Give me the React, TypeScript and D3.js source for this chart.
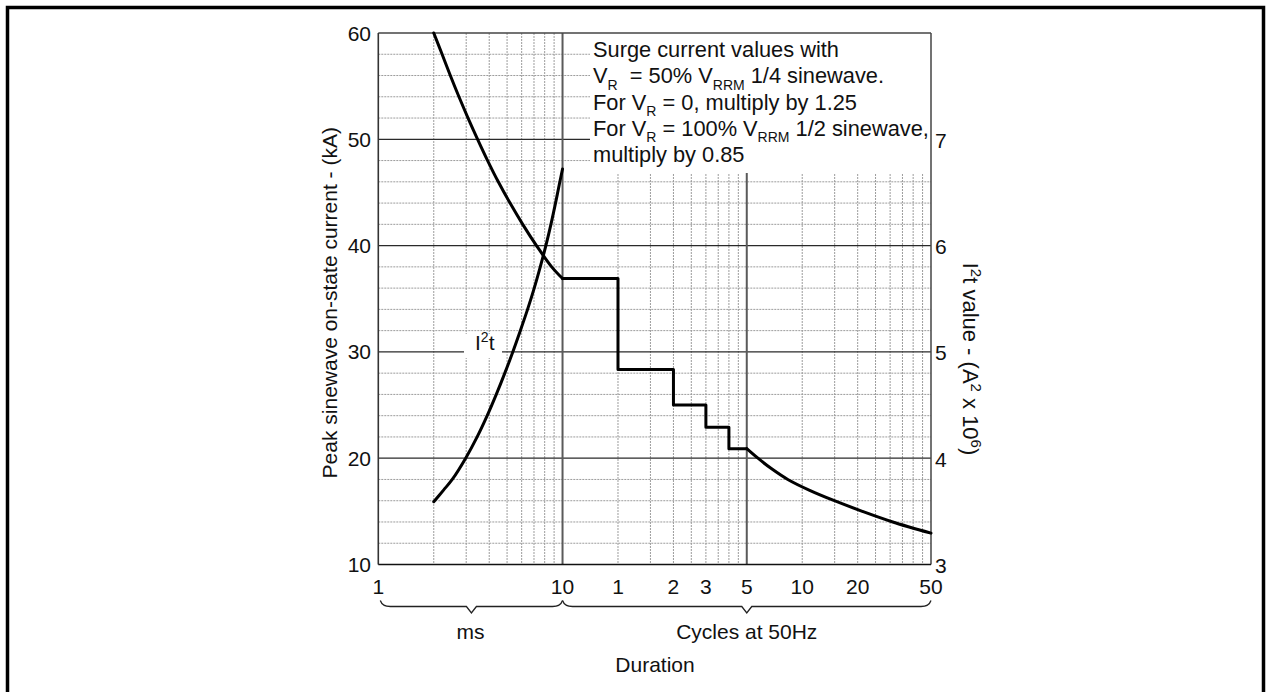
import { useEffect, useRef } from "react";
import * as d3 from "d3";

// surge current, ms region (t in ms, kA)
const surgeMs = [2.0, 2.22, 2.46, 2.74, 3.07, 3.46, 3.92, 4.48, 5.19, 6.08, 7.22, 8.73, 10];
const surgeKA = [60, 58, 56, 54, 52, 50, 48, 46, 44, 42, 40, 38, 36.9];

// stepped region: level stepKA[i] holds from stepCycles[i] to stepCycles[i + 1]
const stepCycles = [0.5, 1, 2, 3, 4, 5];
const stepKA = [36.9, 28.35, 25.0, 22.9, 20.9];

// tail after 5 cycles
const decayMs = [100, 115, 136.5, 167, 218, 299, 424, 620, 1000];
const decayKA = [20.9, 20, 19, 18, 17, 16, 15, 14, 12.95];

// I2t curve (right axis, A2 x 10^6)
const i2tMs = [2.0, 2.26, 2.52, 2.98, 3.44, 3.9, 4.37, 4.86, 5.37, 5.9, 6.46, 7.02, 7.57, 8.12, 8.65, 9.16, 9.67, 10];
const i2tVal = [3.59, 3.7, 3.8, 4.0, 4.2, 4.4, 4.6, 4.8, 5.0, 5.2, 5.4, 5.6, 5.8, 6.0, 6.2, 6.4, 6.6, 6.72];

const leftTicks = [10, 20, 30, 40, 50, 60];
const rightTicks = [3, 4, 5, 6, 7];
const msTicks = [1, 10];
const cycleTicks = [1, 2, 3, 5, 10, 20, 50];
const MS_PER_CYCLE = 20;

type Seg = { t: string; sub?: boolean; sup?: boolean };

const noteLines: Seg[][] = [
  [{ t: "Surge current values with" }],
  [{ t: "V" }, { t: "R", sub: true }, { t: "  = 50% V" }, { t: "RRM", sub: true }, { t: " 1/4 sinewave." }],
  [{ t: "For V" }, { t: "R", sub: true }, { t: " = 0, multiply by 1.25" }],
  [{ t: "For V" }, { t: "R", sub: true }, { t: " = 100% V" }, { t: "RRM", sub: true }, { t: " 1/2 sinewave," }],
  [{ t: "multiply by 0.85" }],
];

const leftTitle = "Peak sinewave on-state current - (kA)";
const rightTitle: Seg[] = [
  { t: "I" }, { t: "2", sup: true }, { t: "t value - (A" }, { t: "2", sup: true },
  { t: " x 10" }, { t: "6", sup: true }, { t: ")" },
];

const FONT = "'Liberation Sans', Arial, Helvetica, sans-serif";

export default function App() {
  const svgRef = useRef<SVGSVGElement>(null);

  useEffect(() => {
    if (!svgRef.current) return;
    document.body.style.margin = "0";

    const width = 1271;
    const height = 692;
    const left = 378.3, right = 931, top = 33, bottom = 564.5;

    d3.select(svgRef.current).selectAll("*").remove();
    const svg = d3.select(svgRef.current)
      .attr("width", width)
      .attr("height", height)
      .attr("font-family", FONT);

    svg.append("rect").attr("width", width).attr("height", height).attr("fill", "#fff");

    // outer frame (bottom edge runs off the page)
    svg.append("path")
      .attr("d", `M7.5,${height + 5}V7.5H1263.5V${height + 5}`)
      .attr("fill", "none")
      .attr("stroke", "#000")
      .attr("stroke-width", 3.5);

    const x = d3.scaleLog().domain([1, 1000]).range([left, right]);
    const y = d3.scaleLinear().domain([10, 60]).range([bottom, top]);
    const y2 = d3.scaleLinear().domain([3, 8]).range([bottom, top]);

    const grid = svg.append("g");

    // minor horizontal grid every 2 kA
    const minorY = d3.range(12, 60, 2).filter(v => v % 10 !== 0);
    grid.selectAll("line.hmin")
      .data(minorY)
      .join("line")
      .attr("x1", left).attr("x2", right)
      .attr("y1", d => y(d)).attr("y2", d => y(d))
      .attr("stroke", "#9c9c9c")
      .attr("stroke-width", 1)
      .attr("stroke-dasharray", "2,1");

    // minor vertical grid
    const vTicks = x.ticks().filter(v => v > 1 && v < 1000 && v !== 10 && v !== 100);
    grid.selectAll("line.vmin")
      .data(vTicks)
      .join("line")
      .attr("x1", d => x(d)).attr("x2", d => x(d))
      .attr("y1", top).attr("y2", bottom)
      .attr("stroke", "#9c9c9c")
      .attr("stroke-width", 1)
      .attr("stroke-dasharray", "2,1");

    // major horizontal grid
    grid.selectAll("line.hmaj")
      .data([20, 30, 40, 50])
      .join("line")
      .attr("x1", left).attr("x2", right)
      .attr("y1", d => y(d)).attr("y2", d => y(d))
      .attr("stroke", "#2a2a2a")
      .attr("stroke-width", 1.3);

    // 10 ms and 5 cycle dividers
    grid.selectAll("line.vmaj")
      .data([10, 100])
      .join("line")
      .attr("x1", d => x(d)).attr("x2", d => x(d))
      .attr("y1", top).attr("y2", bottom)
      .attr("stroke", "#5a5a5a")
      .attr("stroke-width", 2);

    // note box hides the grid behind it
    svg.append("rect")
      .attr("x", 590).attr("y", top)
      .attr("width", right - 590).attr("height", 173 - top)
      .attr("fill", "#fff");

    // frame of the plot
    svg.append("line").attr("x1", left).attr("x2", right).attr("y1", top).attr("y2", top)
      .attr("stroke", "#444").attr("stroke-width", 1.5);
    svg.append("line").attr("x1", right).attr("x2", right).attr("y1", top).attr("y2", bottom)
      .attr("stroke", "#444").attr("stroke-width", 1.5);
    svg.append("line").attr("x1", left).attr("x2", left).attr("y1", top).attr("y2", bottom)
      .attr("stroke", "#333").attr("stroke-width", 1.6);
    svg.append("line").attr("x1", left).attr("x2", right).attr("y1", bottom).attr("y2", bottom)
      .attr("stroke", "#111").attr("stroke-width", 1.6);

    // I2t label with white gap in the grid line
    svg.append("rect")
      .attr("x", 464).attr("y", 334).attr("width", 38).attr("height", 24)
      .attr("fill", "#fff");
    const i2tLabel = svg.append("text")
      .attr("x", 475).attr("y", 350)
      .attr("font-size", 21)
      .attr("fill", "#111");
    i2tLabel.append("tspan").text("I");
    i2tLabel.append("tspan").attr("dy", -8).attr("font-size", 14).text("2");
    i2tLabel.append("tspan").attr("dy", 8).text("t");

    // curves
    const curves = svg.append("g")
      .attr("fill", "none")
      .attr("stroke", "#000")
      .attr("stroke-width", 3)
      .attr("stroke-linejoin", "round")
      .attr("stroke-linecap", "round");

    const smooth = d3.line<[number, number]>()
      .x(d => x(d[0]))
      .y(d => y(d[1]))
      .curve(d3.curveCatmullRom.alpha(0.5));

    curves.append("path")
      .attr("d", smooth(surgeMs.map((t, i) => [t, surgeKA[i]] as [number, number])));

    const stepPts: [number, number][] = [];
    stepKA.forEach((k, i) => {
      stepPts.push([stepCycles[i] * MS_PER_CYCLE, k]);
      stepPts.push([stepCycles[i + 1] * MS_PER_CYCLE, k]);
    });
    curves.append("path")
      .attr("d", d3.line<[number, number]>().x(d => x(d[0])).y(d => y(d[1]))(stepPts));

    curves.append("path")
      .attr("d", smooth(decayMs.map((t, i) => [t, decayKA[i]] as [number, number])));

    curves.append("path")
      .attr("d", d3.line<[number, number]>()
        .x(d => x(d[0]))
        .y(d => y2(d[1]))
        .curve(d3.curveCatmullRom.alpha(0.5))(i2tMs.map((t, i) => [t, i2tVal[i]] as [number, number])));

    // rich text helper (sub / superscripts)
    const writeSegs = (el: d3.Selection<SVGTextElement, unknown, null, undefined>, segs: Seg[], big: number, small: number, subDy = 7, supDy = -8) => {
      let shift = 0;
      segs.forEach(s => {
        const target = s.sub ? subDy : s.sup ? supDy : 0;
        el.append("tspan")
          .attr("dy", target - shift)
          .attr("font-size", s.sub || s.sup ? small : big)
          .text(s.t);
        shift = target;
      });
    };

    // note text
    noteLines.forEach((line, i) => {
      const t = svg.append("text")
        .attr("x", 593)
        .attr("y", 57 + i * 26.3)
        .attr("fill", "#111")
        .style("white-space", "pre");
      writeSegs(t, line, 21.8, 14, 6.5);
    });

    // tick labels
    svg.append("g")
      .selectAll("text")
      .data(leftTicks)
      .join("text")
      .attr("x", 371)
      .attr("y", d => y(d) + 7.5)
      .attr("text-anchor", "end")
      .attr("font-size", 21)
      .attr("fill", "#111")
      .text(d => d);

    svg.append("g")
      .selectAll("text")
      .data(rightTicks)
      .join("text")
      .attr("x", 935)
      .attr("y", d => y2(d) + 8.5)
      .attr("font-size", 21)
      .attr("fill", "#111")
      .text(d => d);

    const xLabels = [
      ...msTicks.map(v => ({ ms: v, label: String(v) })),
      ...cycleTicks.map(v => ({ ms: v * MS_PER_CYCLE, label: String(v) })),
    ];
    svg.append("g")
      .selectAll("text")
      .data(xLabels)
      .join("text")
      .attr("x", d => x(d.ms))
      .attr("y", 594)
      .attr("text-anchor", "middle")
      .attr("font-size", 21)
      .attr("fill", "#111")
      .text(d => d.label);

    // braces under the axis
    const brace = (x1: number, x2: number) => {
      const m = (x1 + x2) / 2;
      const yEnd = 600.5, yBar = 606.5, yTip = 613;
      return `M${x1},${yEnd}Q${x1 + 2},${yBar} ${x1 + 10},${yBar}` +
        `H${m - 5}L${m},${yTip}L${m + 5},${yBar}` +
        `H${x2 - 10}Q${x2 - 2},${yBar} ${x2},${yEnd}`;
    };
    const braces = svg.append("g")
      .attr("fill", "none")
      .attr("stroke", "#222")
      .attr("stroke-width", 1.3);
    braces.append("path").attr("d", brace(x(1) + 2, x(10)));
    braces.append("path").attr("d", brace(x(10), x(1000)));

    svg.append("text")
      .attr("x", (x(1) + x(10)) / 2)
      .attr("y", 639)
      .attr("text-anchor", "middle")
      .attr("font-size", 21)
      .attr("fill", "#111")
      .text("ms");

    svg.append("text")
      .attr("x", (x(10) + x(1000)) / 2)
      .attr("y", 639)
      .attr("text-anchor", "middle")
      .attr("font-size", 21)
      .attr("fill", "#111")
      .text("Cycles at 50Hz");

    svg.append("text")
      .attr("x", 655)
      .attr("y", 672)
      .attr("text-anchor", "middle")
      .attr("font-size", 21)
      .attr("fill", "#111")
      .text("Duration");

    // axis titles
    svg.append("text")
      .attr("transform", `translate(337,${(top + bottom) / 2 + 4}) rotate(-90)`)
      .attr("text-anchor", "middle")
      .attr("font-size", 21)
      .attr("fill", "#111")
      .text(leftTitle);

    const rt = svg.append("text")
      .attr("transform", `translate(963,359) rotate(90)`)
      .attr("text-anchor", "middle")
      .attr("fill", "#111");
    writeSegs(rt, rightTitle, 22, 15, 7, -8);
  }, []);

  return (
    <svg ref={svgRef} style={{ position: "absolute", left: 0, top: 0, display: "block" }} />
  );
}
